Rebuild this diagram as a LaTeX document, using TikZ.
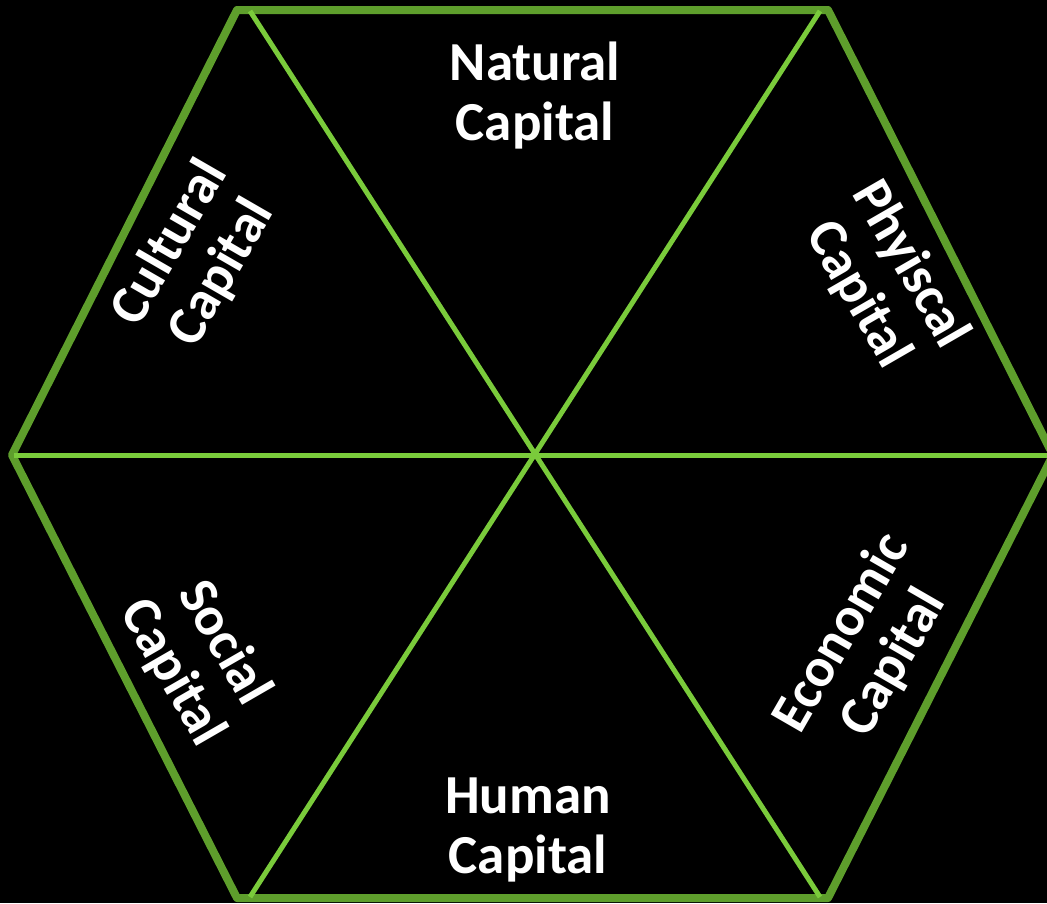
\documentclass[tikz,border=0pt]{standalone}
\usepackage{fontspec}
\setmainfont{Carlito}
\definecolor{outergreen}{HTML}{5E9E2C}
\definecolor{innergreen}{HTML}{7ACB3B}
\tikzset{
  outeredge/.style={draw=outergreen,line width=8pt,line join=round},
  inneredge/.style={draw=innergreen,line width=5pt},
  label/.style={text=white,font=\bfseries\fontsize{55}{60}\selectfont,align=center,inner sep=0pt}
}
\begin{document}
\begin{tikzpicture}[x=1pt,y=-1pt]
\fill[black] (0,0) rectangle (1047,903);
\useasboundingbox (0,0) rectangle (1047,903);
\coordinate (tl) at (237,10);
\coordinate (tr) at (828,10);
\coordinate (r) at (1053,455);
\coordinate (br) at (828,898);
\coordinate (bl) at (237,898);
\coordinate (l) at (12,455);
\coordinate (c) at (535,455);
\coordinate (d1a) at (250,11);
\coordinate (d1b) at (820,897);
\coordinate (d2a) at (820,11);
\coordinate (d2b) at (250,897);
\coordinate (hl) at (14,455);
\coordinate (hr) at (1047,455);
\draw[outeredge] (tl) -- (tr) -- (r) -- (br) -- (bl) -- (l) -- cycle;
\draw[inneredge] (d1a) -- (d1b);
\draw[inneredge] (d2a) -- (d2b);
\draw[inneredge] (hl) -- (hr);
\node[label] (natural) at (535,96) {Natural\\Capital};
\node[label] (human) at (528,830) {Human\\Capital};
\node[label,rotate=60] (cultural) at (196,258) {Cultural\\Capital};
\node[label,rotate=-60] (physical) at (884,280) {Phyiscal\\Capital};
\node[label,rotate=-60] (social) at (198,658) {Social\\Capital};
\node[label,rotate=60] (economic) at (868,648) {Economic\\Capital};
\end{tikzpicture}
\end{document}
